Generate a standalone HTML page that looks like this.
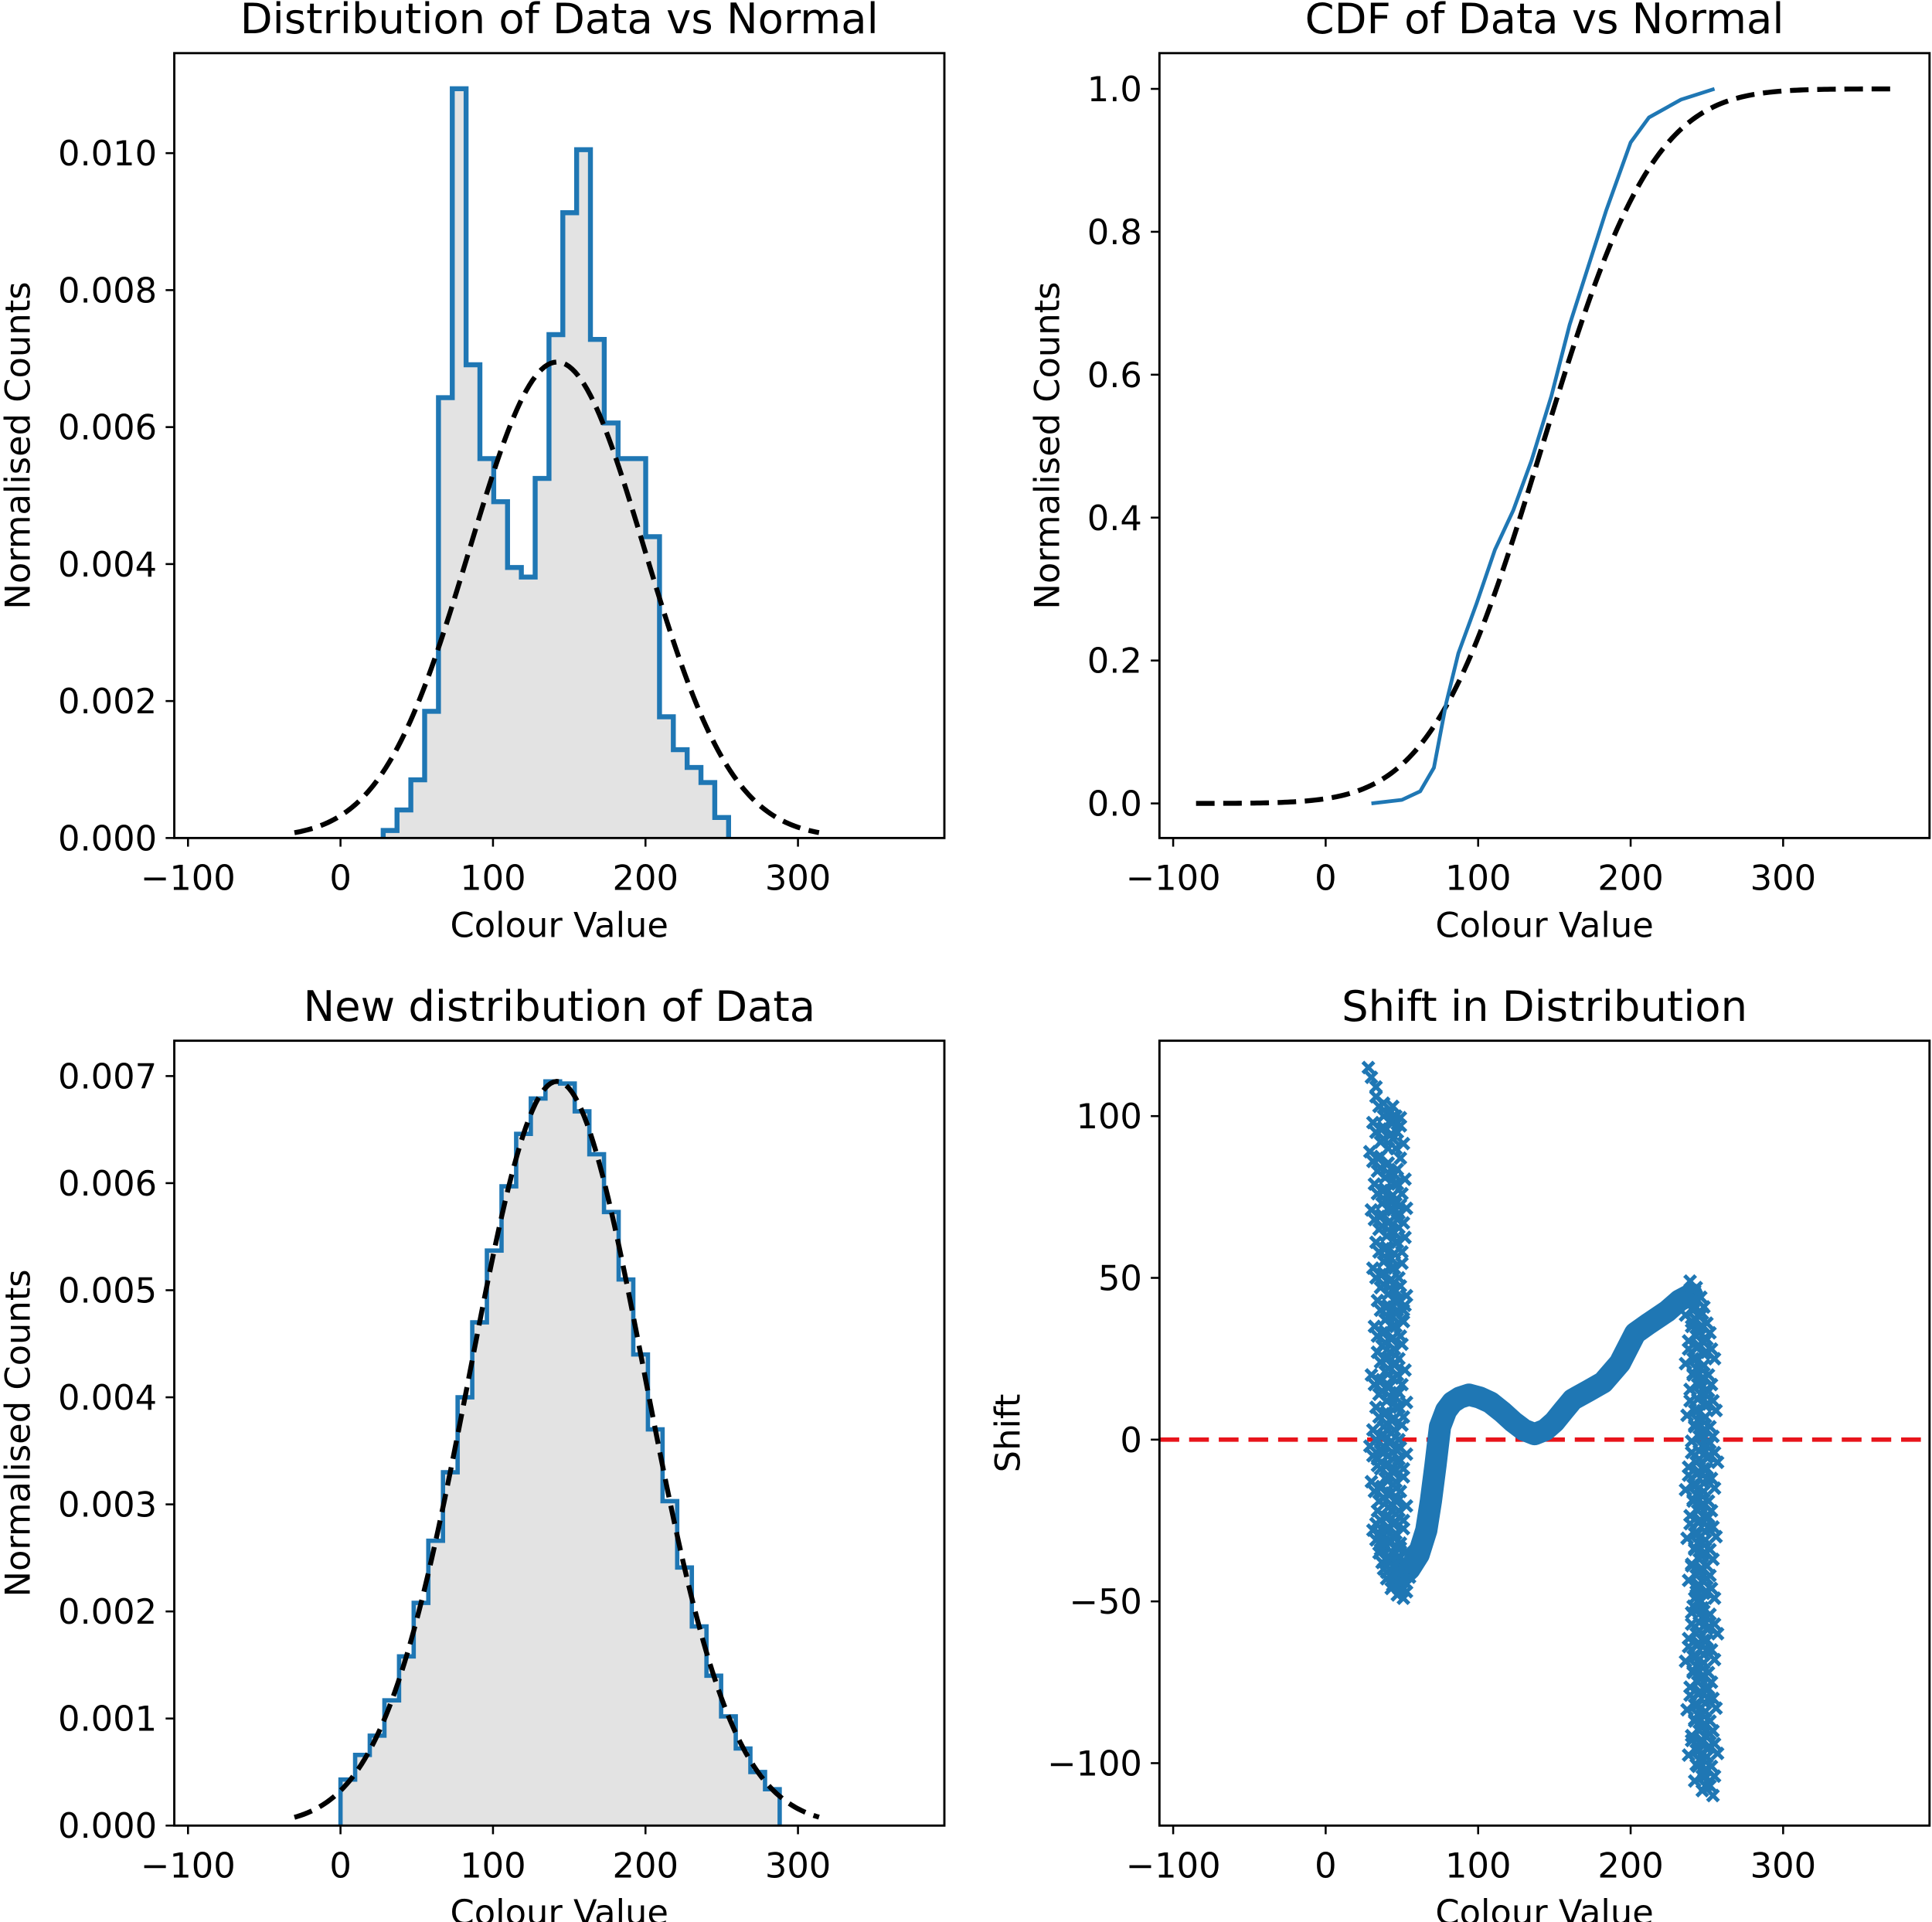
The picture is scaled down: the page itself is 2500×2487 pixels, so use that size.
<!DOCTYPE html>
<html><head><meta charset="utf-8"><style>
html,body{margin:0;padding:0;background:#fff;}
svg{display:block;font-family:"DejaVu Sans","Liberation Sans",sans-serif;}
</style></head><body>
<svg id="fig" width="2500" height="2487" viewBox="0 0 1563 1555" preserveAspectRatio="none" xmlns="http://www.w3.org/2000/svg"></svg>
<script>
// ---- data ----
const hist1Start = 28, hist1Width = 9.06;
const hist1Values = [0.00011,0.00041,0.00085,0.00185,0.00643,0.01094,0.00691,0.00554,0.00491,0.00395,0.00381,0.00525,0.00735,0.00913,0.01005,0.00728,0.00606,0.00554,0.00554,0.00440,0.00177,0.00129,0.00103,0.00081,0.00030];
const normMu = 142, normSigma = 57.4;
const cdfX = [30,50,62,71,79,87,99,111,123,135,148,160,172,184,200,212,233,255];
const cdfY = [0,0.005,0.017,0.05,0.14,0.21,0.28,0.355,0.41,0.48,0.57,0.67,0.75,0.83,0.925,0.96,0.985,1.0];
const hist3Start = 0, hist3Width = 9.6;
const hist3Values = [0.00043,0.00066,0.00084,0.00117,0.00158,0.00208,0.00266,0.0033,0.0040,0.0047,0.00537,0.00597,0.00646,0.00679,0.00695,0.00693,0.00667,0.00627,0.00573,0.0051,0.0044,0.0037,0.00303,0.00241,0.00186,0.0014,0.00102,0.00072,0.0005,0.00034];
const curveX = [48,55,61,66,69,72,75,79,83,88,94,101,108,116,123,130,137,144,150,156,162,172,182,193,203,212,224,232,240];
const curveY = [-43,-40,-35.5,-28,-19,-8,4,9,11.5,13,13.9,13,11.5,8.5,5.5,3,1.7,3,5.5,9,12.4,15,17.7,23.7,32.9,35.9,39.7,43,45];
const leftX = [30,35,40,44,33,38,46,31,36,42,47,34,39,44,32,37,43,47,35,40,45,33,38,44,48,36,41,46,34,39,45,36,41,47,32,37,43,48,35,40,45,33,38,44,48,36,41,46,32,38,43,48,36,41,46,33,38,44,48,37,42,46,40,44,48,50,35,31,47,48,46];
const leftY = [112,103,101,98,95,93,90,86,84,82,79,76,74,71,68,66,64,61,58,56,53,50,48,46,43,40,38,35,32,30,28,24,22,20,17,15,13,10,7,5,3,0,-2,-4,-6,-9,-11,-13,-16,-18,-20,-22,-25,-27,-29,-31,-33,-35,-36,-38,-40,-42,-43,-45,-46,-44,-29,-5,40,70,100];
const rightX = [242,246,241,245,250,243,248,253,241,246,251,244,249,254,242,247,252,245,250,255,243,248,253,241,246,251,244,249,254,242,247,252,245,250,243,248,253,245,250,255,243,248,253,241,246,251,244,249,254,242,247,252,245,250,255,243,248,253,247,252,246];
const rightY = [46,44,40,38,36,32,30,28,25,22,20,17,14,12,9,6,4,1,-2,-4,-7,-9,-12,-14,-17,-19,-22,-24,-27,-29,-32,-34,-37,-39,-42,-44,-46,-52,-55,-57,-60,-62,-65,-67,-70,-72,-75,-77,-80,-82,-85,-87,-90,-92,-94,-96,-99,-101,-104,-107,-50];
const xTicks = [-100,0,100,200,300];
const yTicks1 = [0,0.002,0.004,0.006,0.008,0.010];
const yTicks2 = [0,0.2,0.4,0.6,0.8,1.0];
const yTicks3 = [0,0.001,0.002,0.003,0.004,0.005,0.006,0.007];
const yTicks4 = [-100,-50,0,50,100];

const NS = "http://www.w3.org/2000/svg";
const svg = document.getElementById('fig');
function mk(tag, attrs, parent){const e=document.createElementNS(NS,tag);for(const k in attrs)e.setAttribute(k,attrs[k]);(parent||svg).appendChild(e);return e;}
function pdf(x){return Math.exp(-(x-normMu)*(x-normMu)/(2*normSigma*normSigma))/(normSigma*Math.sqrt(2*Math.PI));}
function erf(x){const s=Math.sign(x);x=Math.abs(x);const t=1/(1+0.3275911*x);const y=1-(((((1.061405429*t-1.453152027)*t)+1.421413741)*t-0.284496736)*t+0.254829592)*t*Math.exp(-x*x);return s*y;}
function cdf(x){return 0.5*(1+erf((x-normMu)/(normSigma*Math.SQRT2)));}

function panel(name, L, T, R, B, xd, yd, title, ylabel, yticks, yfmt, ylabX){
  const g = mk('g',{});
  
  
  const sx = v => L + (v-xd[0])/(xd[1]-xd[0])*(R-L);
  const sy = v => B - (v-yd[0])/(yd[1]-yd[0])*(B-T);
  const t = mk('text',{x:(L+R)/2,y:T-16,'text-anchor':'middle','font-size':34,fill:'#000'},g);
  t.textContent = title;
  
  
  xTicks.forEach(v=>{
    const x=sx(v);
    mk('line',{x1:x,x2:x,y1:B,y2:B+7,stroke:'#000','stroke-width':1.6},g);
    const tx=mk('text',{x:x,y:B+42,'text-anchor':'middle','font-size':28},g);
    tx.textContent = v<0 ? '\u2212'+Math.abs(v) : String(v);
    
    
  });
  yticks.forEach(v=>{
    const y=sy(v);
    mk('line',{x1:L-7,x2:L,y1:y,y2:y,stroke:'#000','stroke-width':1.6},g);
    const ty=mk('text',{x:L-14,y:y+10,'text-anchor':'end','font-size':28},g);
    ty.textContent = yfmt(v);
    
    
  });
  const xl=mk('text',{x:(L+R)/2,y:B+80,'text-anchor':'middle','font-size':28},g);
  xl.textContent='Colour Value';
  
  
  const yc=(T+B)/2;
  const yl=mk('text',{x:ylabX,y:yc,'text-anchor':'middle','font-size':28,transform:`rotate(-90 ${ylabX} ${yc})`},g);
  yl.textContent=ylabel;
  
  
  return {g, sx, sy, L,T,R,B};
}
function frame(p){
  const f=mk('rect',{x:p.L,y:p.T,width:p.R-p.L,height:p.B-p.T,fill:'none',stroke:'#000','stroke-width':1.8},p.g);
  
  
}
function histPath(p, start, w, vals, sw){
  let d=`M${p.sx(start)},${p.sy(0)}`;
  vals.forEach((v,i)=>{d+=` L${p.sx(start+i*w)},${p.sy(v)} L${p.sx(start+(i+1)*w)},${p.sy(v)}`;});
  d+=` L${p.sx(start+vals.length*w)},${p.sy(0)}`;
  const f=mk('path',{d:d+' Z',fill:'#e3e3e3',stroke:'none'},p.g);
  
  
  const s=mk('path',{d:d,fill:'none',stroke:'#1f77b4','stroke-width':sw,'stroke-linejoin':'miter'},p.g);
  
  
}
function normalLine(p, fn, a, b){
  let pts=[];for(let x=a;x<=b;x+=2)pts.push(p.sx(x)+','+p.sy(fn(x)));
  const l=mk('polyline',{points:pts.join(' '),fill:'none',stroke:'#000','stroke-width':4,'stroke-dasharray':'15 7'},p.g);
  
  
}
const xd=[-109,396];
const f3=v=>v.toFixed(3), f1=v=>v.toFixed(1), f0=v=>v<0?'\u2212'+Math.abs(v):String(v);

// panel 1
const p1=panel('histogram-panel',141,43,764,678,xd,[0,0.01146],'Distribution of Data vs Normal','Normalised Counts',yTicks1,f3,24);
histPath(p1,hist1Start,hist1Width,hist1Values,4);
normalLine(p1,pdf,normMu-3*normSigma,normMu+3*normSigma);
frame(p1);

// panel 2
const p2=panel('cdf-panel',938,43,1561,678,xd,[-0.0484,1.050],'CDF of Data vs Normal','Normalised Counts',yTicks2,f1,857);
normalLine(p2,cdf,-85,375);
const cl=mk('polyline',{points:cdfX.map((x,i)=>p2.sx(x)+','+p2.sy(cdfY[i])).join(' '),fill:'none',stroke:'#1f77b4','stroke-width':3,'stroke-linejoin':'round'},p2.g);


frame(p2);

// panel 3
const p3=panel('new-histogram-panel',141,842,764,1477,xd,[0,0.00733],'New distribution of Data','Normalised Counts',yTicks3,f3,24);
histPath(p3,hist3Start,hist3Width,hist3Values,3.5);
normalLine(p3,pdf,normMu-3*normSigma,normMu+3*normSigma);
frame(p3);

// panel 4
const p4=panel('shift-panel',938,842,1561,1477,xd,[-119.3,123.3],'Shift in Distribution','Shift',yTicks4,f0,825);
const z=mk('line',{x1:938,x2:1561,y1:p4.sy(0),y2:p4.sy(0),stroke:'#e8141b','stroke-width':3.5,'stroke-dasharray':'16 8'},p4.g);


const cv=mk('polyline',{points:curveX.map((x,i)=>p4.sx(x)+','+p4.sy(curveY[i])).join(' '),fill:'none',stroke:'#1f77b4','stroke-width':18,'stroke-linejoin':'round','stroke-linecap':'round'},p4.g);


function marker(x,y){
  const X=p4.sx(x),Y=p4.sy(y),r=4.5;
  const m=mk('path',{d:`M${X-r},${Y-r}L${X+r},${Y+r}M${X-r},${Y+r}L${X+r},${Y-r}`,stroke:'#1f77b4','stroke-width':3.2,fill:'none'},p4.g);
  
  
}
leftX.forEach((x,i)=>{const y=leftY[i];marker(x,y);marker(x+3,y-3);marker(x-2,y+3);if(y<100)marker(x+5,y+1.5);});
rightX.forEach((x,i)=>{const y=rightY[i];marker(x,y);marker(x-3,y+3);marker(x+2,y-3);marker(x-5,y-1.5);});
frame(p4);
</script>
</body></html>
